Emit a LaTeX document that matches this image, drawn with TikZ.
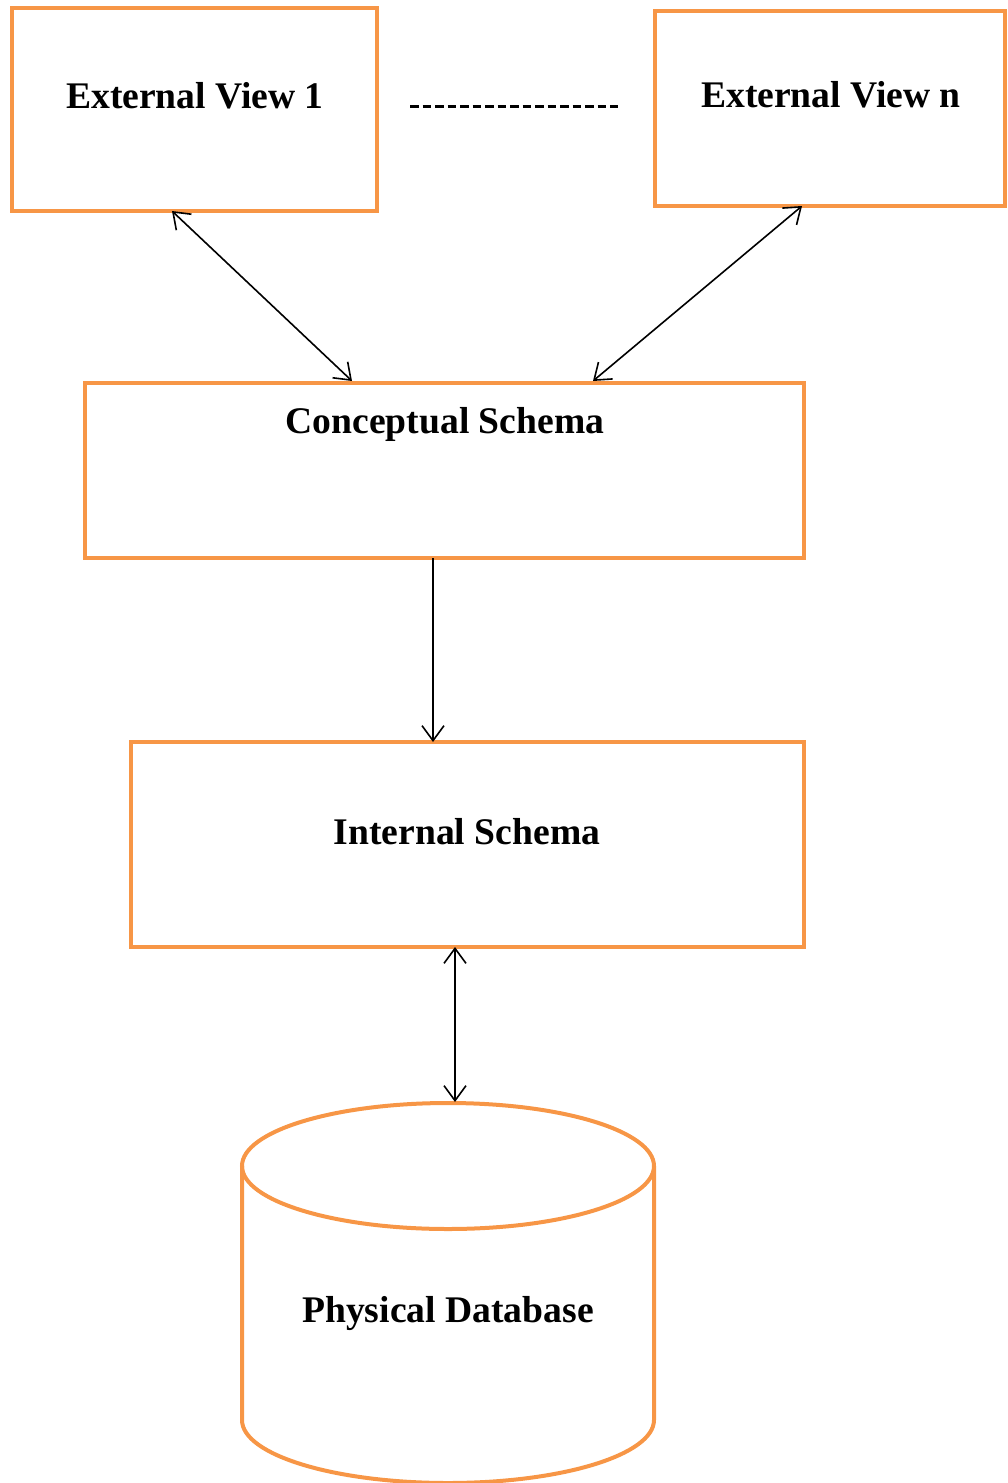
\documentclass[tikz,border=0pt]{standalone}
\usepackage{fontspec}
\setmainfont{Liberation Serif}
\usetikzlibrary{arrows.meta}
\definecolor{boxorange}{HTML}{F79646}
\tikzset{
  box/.style={draw=boxorange, line width=4pt, rectangle, inner sep=0pt, outer sep=0pt, anchor=north west},
  lbl/.style={font=\fontsize{37.6}{40}\selectfont\bfseries, inner sep=0pt, anchor=center},
  conn/.style={draw=black, line width=1.6pt, arrows={Straight Barb[length=15pt,width=22pt,line width=1.6pt]-Straight Barb[length=15pt,width=22pt,line width=1.6pt]}},
  conn1/.style={draw=black, line width=1.6pt, arrows={-Straight Barb[length=15pt,width=22pt,line width=1.6pt]}}
}
\begin{document}
\begin{tikzpicture}[x=1pt,y=-1pt]
\useasboundingbox (0,0) rectangle (1007,1483);
% boxes
\node[box, minimum width=365pt, minimum height=203pt] (ext1) at (12,8) {};
\node[box, minimum width=350pt, minimum height=195pt] (extn) at (655,11) {};
\node[box, minimum width=719pt, minimum height=175pt] (conc) at (85,383) {};
\node[box, minimum width=673pt, minimum height=205pt] (int) at (131,742) {};
% labels
\node[lbl] (ext1t) at (195,96) {External View 1};
\node[lbl] (extnt) at (831,95) {External View n};
\node[lbl] (conct) at (445,424) {Conceptual Schema};
\node[lbl] (intt) at (467,832) {Internal Schema};
% dashed separator
\coordinate (dA) at (410,106);
\coordinate (dB) at (618,106);
\draw[line width=3pt, dash pattern=on 8.5pt off 4pt] (dA) -- (dB);
% cylinder
\draw[boxorange, line width=4pt] (448,1166) ellipse [x radius=206, y radius=63];
\draw[boxorange, line width=4pt] (242,1166) -- (242,1420) arc[start angle=180, end angle=0, x radius=206, y radius=63] -- (654,1166);
\coordinate (dbtop) at (455,1102);
\node[lbl] (dbt) at (448,1313) {Physical Database};
% connectors
\coordinate (e1b) at (172,211);
\coordinate (c1) at (352,381);
\coordinate (enb) at (802,206);
\coordinate (c2) at (593,381);
\draw[conn] (e1b) -- (c1);
\draw[conn] (enb) -- (c2);
\draw[conn1] (conc.south -| 433,0) -- (int.north -| 433,0);
\draw[conn] (int.south -| 455,0) -- (dbtop);
\end{tikzpicture}
\end{document}
